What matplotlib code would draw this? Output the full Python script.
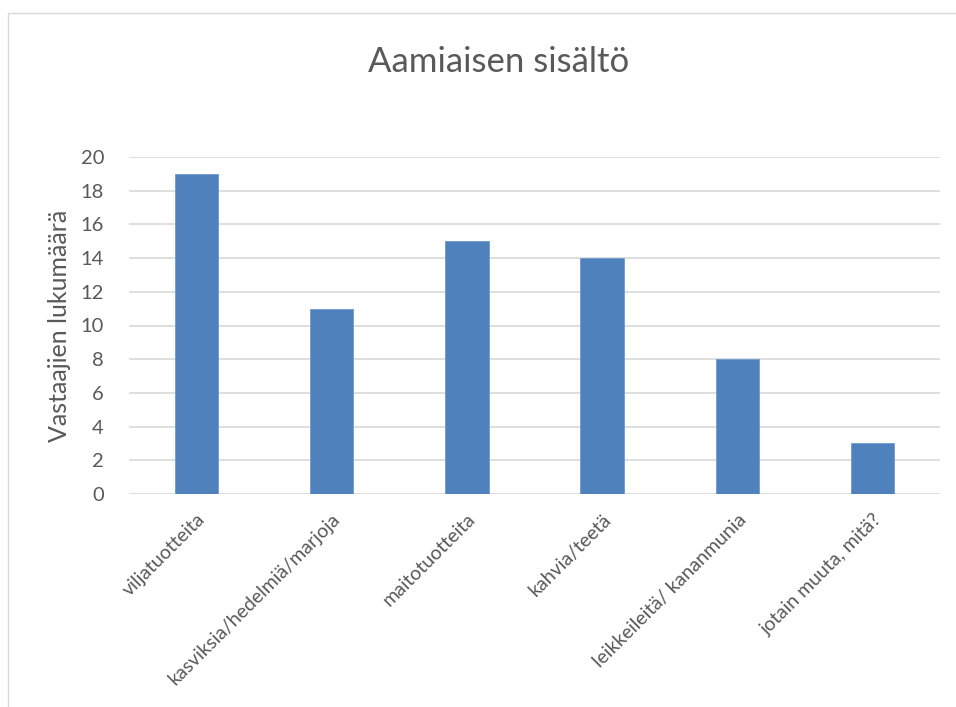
import matplotlib.pyplot as plt
from matplotlib.patches import Rectangle

# data
categories = ["viljatuotteita", "kasviksia/hedelmiä/marjoja", "maitotuotteita",
              "kahvia/teetä", "leikkeileitä/ kananmunia", "jotain muuta, mitä?"]
values = [19, 11, 15, 14, 8, 3]
yticks = [0, 2, 4, 6, 8, 10, 12, 14, 16, 18, 20]

plt.rcParams['font.family'] = ['Lato', 'DejaVu Sans']
txt = "#595959"

fig = plt.figure(figsize=(9.56, 7.07), dpi=100)
# light chart-area border, like the Excel frame
fig.patches.append(Rectangle((8/956, -0.05), 1.0, 1 - 13/707 + 0.05,
                             transform=fig.transFigure, fill=False,
                             edgecolor="#d9d9d9", linewidth=1))

ax = fig.add_axes([129/956, 1 - 494/707, 811/956, 337/707])
x = range(len(categories))
ax.bar(x, values, width=0.32, color="#4f81bd", edgecolor="#6f9bd1", linewidth=0.6, zorder=3)

ax.set_xlim(-0.5, len(categories) - 0.5)
ax.set_ylim(0, 20)
ax.set_yticks(yticks)
ax.yaxis.grid(True, color="#d9d9d9", linewidth=1.2, zorder=0)
for s in ax.spines.values():
    s.set_visible(False)
ax.tick_params(axis="both", length=0, colors=txt)
ax.tick_params(axis="y", labelsize=14.5, pad=18)
ax.set_xticks(list(x))
ax.set_xticklabels(categories, rotation=45, ha="right", rotation_mode="anchor")
ax.tick_params(axis="x", labelsize=14, pad=12)

ax.set_ylabel("Vastaajien lukumäärä", fontsize=18, color=txt)
ax.yaxis.set_label_coords(-0.071, 0.5)
fig.text(0.522, 1 - 62/707, "Aamiaisen sisältö", fontsize=25, color=txt,
         ha="center", va="center")

fig.savefig("out.png", dpi=100)
